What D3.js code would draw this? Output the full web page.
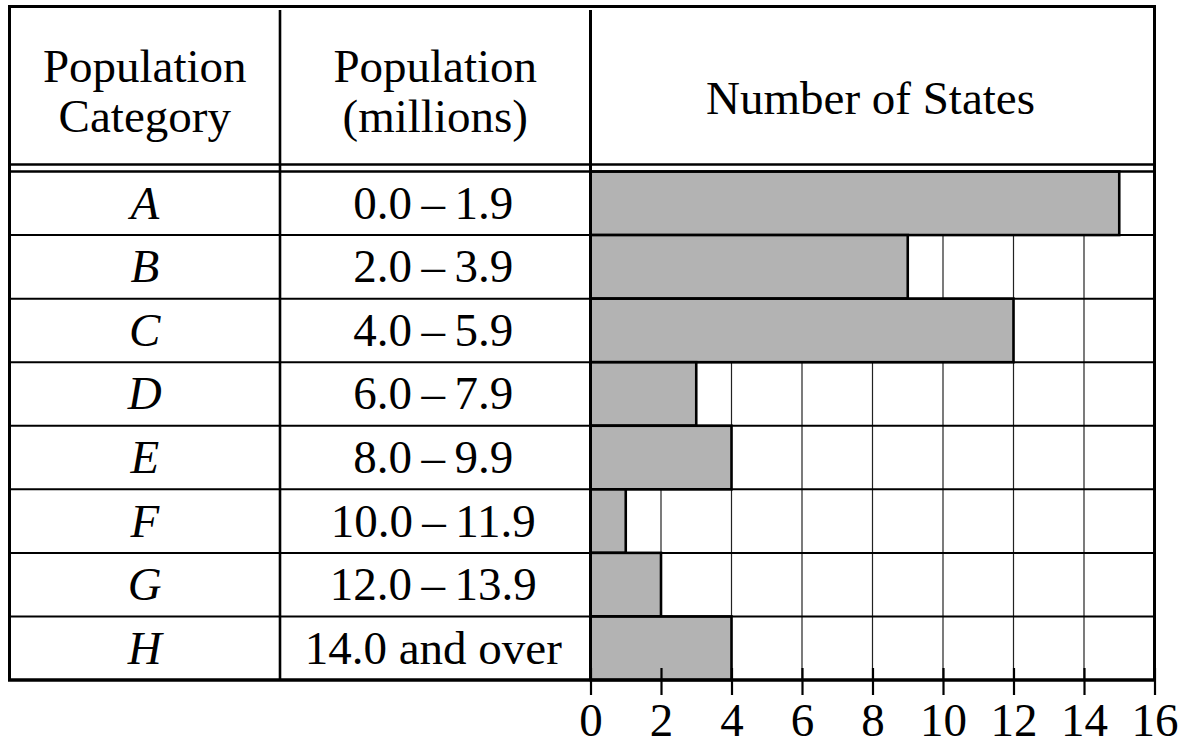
<!DOCTYPE html>
<html>
<head>
<meta charset="utf-8">
<script src="https://cdn.jsdelivr.net/npm/d3@7"></script>
<style>
  html, body { margin: 0; padding: 0; background: #fff; }
  svg { display: block; }
  text { font-family: "Liberation Serif", "Times New Roman", serif; fill: #000; }
</style>
</head>
<body>
<svg id="chart" width="1186" height="747"></svg>
<script>
// ---- data ----
const categories = ["A", "B", "C", "D", "E", "F", "G", "H"];
const ranges = ["0.0\u2009\u2013\u20091.9", "2.0\u2009\u2013\u20093.9", "4.0\u2009\u2013\u20095.9", "6.0\u2009\u2013\u20097.9",
                "8.0\u2009\u2013\u20099.9", "10.0\u2009\u2013\u200911.9", "12.0\u2009\u2013\u200913.9", "14.0 and over"];
const numStates = [15, 9, 12, 3, 4, 1, 2, 4];
const tickValues = [0, 2, 4, 6, 8, 10, 12, 14, 16];
const headerCol1 = ["Population", "Category"];
const headerCol2 = ["Population", "(millions)"];
const headerCol3 = "Number of States";

// ---- layout ----
const svg = d3.select("#chart");
const fLeft = 9.5, fRight = 1154.5, fTop = 6.5, fBottom = 680;
const col1 = 280, col2 = 590.5;
const headBottom1 = 164.5, headBottom2 = 171.5;
const fontSize = 47;

const x = d3.scaleLinear().domain([0, 16]).range([col2, fRight]);
const y = d3.scaleBand().domain(categories).range([headBottom2, fBottom]);

const rows = categories.map((c, i) => ({cat: c, range: ranges[i], value: numStates[i]}));

// gridlines
svg.append("g").selectAll("line").data(tickValues.slice(1, -1)).join("line")
  .attr("x1", d => x(d)).attr("x2", d => x(d))
  .attr("y1", headBottom2).attr("y2", fBottom)
  .attr("stroke", "#222").attr("stroke-width", 1.2);

// bars
svg.append("g").selectAll("rect").data(rows).join("rect")
  .attr("x", x(0))
  .attr("y", d => y(d.cat))
  .attr("width", d => x(d.value) - x(0))
  .attr("height", y.bandwidth())
  .attr("fill", "#b3b3b3")
  .attr("stroke", "#000")
  .attr("stroke-width", 2.6);

// row separators
svg.append("g").selectAll("line").data(categories.slice(1)).join("line")
  .attr("x1", fLeft).attr("x2", fRight)
  .attr("y1", d => y(d)).attr("y2", d => y(d))
  .attr("stroke", "#000").attr("stroke-width", 2);

// header double line
[headBottom1, headBottom2].forEach(yy => {
  svg.append("line").attr("x1", fLeft).attr("x2", fRight)
    .attr("y1", yy).attr("y2", yy)
    .attr("stroke", "#000").attr("stroke-width", 2.6);
});

// column dividers
svg.append("line").attr("x1", col1).attr("x2", col1)
  .attr("y1", 10).attr("y2", fBottom).attr("stroke", "#000").attr("stroke-width", 2.6);
svg.append("line").attr("x1", col2).attr("x2", col2)
  .attr("y1", 10).attr("y2", fBottom).attr("stroke", "#000").attr("stroke-width", 3);

// outer frame (top, left, right) and bottom line
svg.append("line").attr("x1", fLeft - 1.5).attr("x2", fRight + 1.5)
  .attr("y1", fTop).attr("y2", fTop).attr("stroke", "#000").attr("stroke-width", 3);
svg.append("line").attr("x1", fLeft).attr("x2", fLeft)
  .attr("y1", fTop).attr("y2", fBottom).attr("stroke", "#000").attr("stroke-width", 3);
svg.append("line").attr("x1", fRight).attr("x2", fRight)
  .attr("y1", fTop).attr("y2", fBottom).attr("stroke", "#000").attr("stroke-width", 3);
svg.append("line").attr("x1", fLeft - 1.5).attr("x2", fRight + 1.5)
  .attr("y1", fBottom).attr("y2", fBottom).attr("stroke", "#000").attr("stroke-width", 3.5);

// axis (bottom ticks + labels)
const axB = svg.append("g").attr("transform", `translate(0,${fBottom})`)
  .call(d3.axisBottom(x).tickValues(tickValues).tickSize(15).tickPadding(8).tickFormat(d3.format("d")));
axB.attr("font-family", null).attr("font-size", null);
axB.select(".domain").remove();
axB.selectAll(".tick line").attr("stroke", "#000").attr("stroke-width", 2.2);
axB.selectAll(".tick text").attr("font-size", fontSize)
  .style("font-family", "'Liberation Serif', 'Times New Roman', serif").attr("fill", "#000");

// inward ticks
const axT = svg.append("g").attr("transform", `translate(0,${fBottom})`)
  .call(d3.axisTop(x).tickValues(tickValues).tickSize(12).tickFormat(""));
axT.select(".domain").remove();
axT.selectAll(".tick line").attr("stroke", "#000").attr("stroke-width", 2.2);

// header text
const hc1 = (fLeft + col1) / 2, hc2 = (col1 + col2) / 2, hc3 = (col2 + fRight) / 2;
const hText = (lines, cx) => {
  lines.forEach((t, i) => {
    svg.append("text").attr("x", cx).attr("y", 82 + i * 50)
      .attr("text-anchor", "middle").attr("font-size", fontSize).text(t);
  });
};
hText(headerCol1, hc1);
hText(headerCol2, hc2);
svg.append("text").attr("x", hc3 - 2).attr("y", 114)
  .attr("text-anchor", "middle").attr("font-size", fontSize).text(headerCol3);

// row text
svg.append("g").selectAll("text").data(rows).join("text")
  .attr("x", hc1).attr("y", d => y(d.cat) + y.bandwidth() / 2 + 15.5)
  .attr("text-anchor", "middle").attr("font-size", fontSize).attr("font-style", "italic")
  .text(d => d.cat);
svg.append("g").selectAll("text").data(rows).join("text")
  .attr("x", hc2 - 2).attr("y", d => y(d.cat) + y.bandwidth() / 2 + 15.5)
  .attr("text-anchor", "middle").attr("font-size", fontSize)
  .text(d => d.range);
</script>
</body>
</html>
